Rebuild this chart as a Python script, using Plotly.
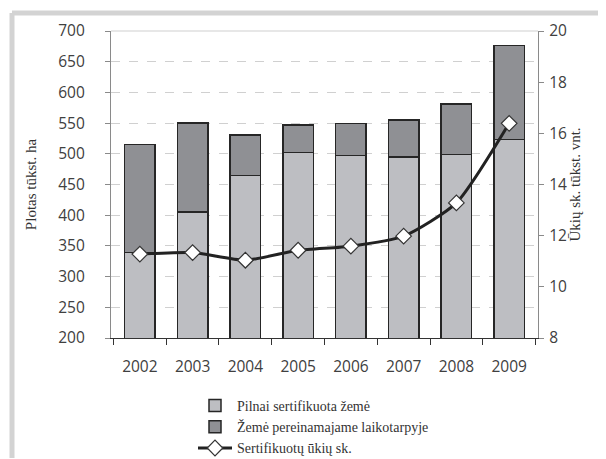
import plotly.graph_objects as go

years = ["2002", "2003", "2004", "2005", "2006", "2007", "2008", "2009"]
certified = [339, 405, 465, 502, 497, 495, 499, 523]
totals = [515, 550, 531, 547, 549, 555, 581, 676]
transition = [t - c for t, c in zip(totals, certified)]
farms = [11.28, 11.34, 11.04, 11.43, 11.59, 11.98, 13.28, 16.39]

# page offset (default body margin of the html page)
OFF = 8
W, H = 606 - OFF, 459 - OFF
L, T = 111 - OFF, 31 - OFF
R = W - (538 - OFF)
B = H - (338 - OFF)
pw, ph = W - L - R, H - T - B

def px(x):
    return (x - OFF - L) / pw

def py(y):
    return (H - B - (y - OFF)) / ph

fig = go.Figure()
fig.add_trace(go.Bar(
    x=years, y=certified, name="Pilnai sertifikuota žemė",
    marker=dict(color="#bdbec2", line=dict(color="#262626", width=1.5)),
    width=0.58,
))
fig.add_trace(go.Bar(
    x=years, y=transition, name="Žemė pereinamajame laikotarpyje",
    marker=dict(color="#8f9094", line=dict(color="#262626", width=1.5)),
    width=0.58,
))
fig.add_trace(go.Scatter(
    x=years, y=farms, name="Sertifikuotų ūkių sk.", yaxis="y2",
    mode="lines+markers", line=dict(color="#222222", width=3, shape="spline", smoothing=0.6),
    marker=dict(symbol="diamond", size=12, color="white", line=dict(color="#333333", width=1.2)),
))

tickfont = dict(family="Open Sans, Liberation Sans, sans-serif", size=15.5, color="#404040")
serif = "Liberation Serif, Times New Roman, serif"

fig.update_layout(
    width=W, height=H,
    margin=dict(l=L, r=R, t=T, b=B, autoexpand=False),
    paper_bgcolor="white", plot_bgcolor="white",
    barmode="stack",
    showlegend=True,
    legend=dict(
        x=px(193), y=py(390), xanchor="left", yanchor="top",
        font=dict(family=serif, size=14, color="#333333"),
        traceorder="normal", itemwidth=34, tracegroupgap=0,
        bgcolor="rgba(0,0,0,0)",
    ),
    xaxis=dict(
        type="category", showgrid=False, showline=True, linecolor="#333333", linewidth=1.2,
        ticks="outside", tickson="boundaries", ticklen=6, tickcolor="#333333",
        tickfont=tickfont, ticklabelstandoff=14, automargin=False,
    ),
    yaxis=dict(
        range=[200, 700], dtick=50, showgrid=True, gridcolor="#d0d0d0", griddash="dash",
        showline=True, linecolor="#8a8a8a", linewidth=1.2, ticks="outside", ticklen=5,
        tickcolor="#8a8a8a", tickfont=tickfont, ticklabelstandoff=17, zeroline=False,
        automargin=False,
        title=dict(text="Plotas tūkst. ha", font=dict(family=serif, size=15, color="#333333"), standoff=17),
    ),
    yaxis2=dict(
        range=[8, 20], dtick=2, overlaying="y", side="right", showgrid=False,
        showline=True, linecolor="#8a8a8a", linewidth=1.2, ticks="outside", ticklen=5,
        tickcolor="#8a8a8a", tickfont=tickfont, ticklabelstandoff=2, zeroline=False,
        automargin=False,
        title=dict(text="Ūkių sk. tūkst. vnt.", font=dict(family=serif, size=15, color="#333333"), standoff=3),
    ),
    shapes=[
        dict(type="line", xref="paper", yref="paper", x0=0, x1=1, y0=1, y1=1,
             line=dict(color="#d0d0d0", width=1.2)),
        dict(type="line", xref="paper", yref="paper", x0=px(12), x1=px(605), y0=py(13), y1=py(13),
             line=dict(color="#d3d3d3", width=5)),
        dict(type="line", xref="paper", yref="paper", x0=px(12), x1=px(12), y0=py(13), y1=py(458),
             line=dict(color="#d3d3d3", width=5)),
    ],
)

fig.write_html("out.html")
